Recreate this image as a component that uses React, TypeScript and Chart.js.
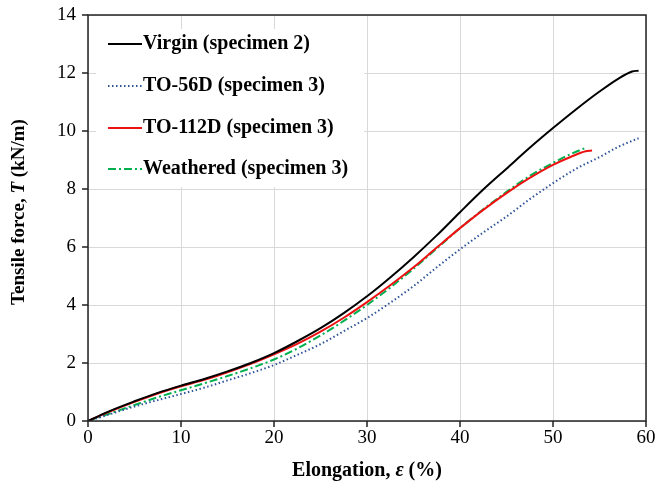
import React, { useEffect, useRef } from "react";
import { Chart, registerables } from "chart.js";

Chart.register(...registerables);

const virginX = [0, 2, 5, 7.5, 10, 12.5, 15, 17.5, 20, 22.5, 25, 27.5, 30, 32.5, 35, 37.5, 40, 42.5, 45, 47.5, 50, 52.5, 55, 57, 58.5, 59.2];
const virginY = [0, 0.3, 0.68, 0.97, 1.22, 1.45, 1.71, 2.0, 2.34, 2.75, 3.2, 3.72, 4.3, 4.95, 5.65, 6.4, 7.2, 7.98, 8.7, 9.42, 10.1, 10.75, 11.36, 11.8, 12.05, 12.08];

const to56X = [0, 2, 5, 7.5, 10, 12.5, 15, 17.5, 20, 22.5, 25, 27.5, 30, 32.5, 35, 37.5, 40, 42.5, 45, 47.5, 50, 52.5, 55, 57, 59.2];
const to56Y = [0, 0.2, 0.5, 0.72, 0.93, 1.15, 1.4, 1.65, 1.93, 2.28, 2.65, 3.1, 3.55, 4.08, 4.65, 5.3, 5.92, 6.5, 7.05, 7.65, 8.2, 8.7, 9.1, 9.45, 9.75];

const to112X = [0, 2, 5, 7.5, 10, 12.5, 15, 17.5, 20, 22.5, 25, 27.5, 30, 32.5, 35, 37.5, 40, 42.5, 45, 47.5, 50, 52, 53.5, 54.2];
const to112Y = [0, 0.28, 0.66, 0.95, 1.2, 1.42, 1.68, 1.97, 2.3, 2.66, 3.08, 3.56, 4.1, 4.68, 5.3, 5.98, 6.65, 7.28, 7.86, 8.38, 8.83, 9.12, 9.3, 9.33];

const weatheredX = [0, 2, 5, 7.5, 10, 12.5, 15, 17.5, 20, 22.5, 25, 27.5, 30, 32.5, 35, 37.5, 40, 42.5, 45, 47.5, 50, 52, 53.5];
const weatheredY = [0, 0.22, 0.55, 0.82, 1.06, 1.3, 1.55, 1.82, 2.12, 2.5, 2.95, 3.45, 4.0, 4.6, 5.25, 5.95, 6.65, 7.3, 7.9, 8.45, 8.9, 9.22, 9.42];

const seriesLabels = ["Virgin (specimen 2)", "TO-56D (specimen 3)", "TO-112D (specimen 3)", "Weathered (specimen 3)"];

const SERIF = "'Liberation Serif', 'DejaVu Serif', serif";

const pts = (xs: number[], ys: number[]) => xs.map((x, i) => ({ x, y: ys[i] }));

export default function App() {
  const ref = useRef<HTMLCanvasElement>(null);
  useEffect(() => {
    if (!ref.current) return;
    const styles = [
      { color: "#000000", dash: [] as number[], width: 2 },
      { color: "#2f5597", dash: [1.5, 2.5], width: 2 },
      { color: "#ee1111", dash: [] as number[], width: 2 },
      { color: "#00b050", dash: [8, 3, 2, 3], width: 2 },
    ];
    const data = [pts(virginX, virginY), pts(to56X, to56Y), pts(to112X, to112Y), pts(weatheredX, weatheredY)];

    const custom = {
      id: "custom",
      beforeDatasetsDraw(chart: any) {
        const ctx = chart.ctx;
        ctx.save();
        ctx.fillStyle = "#ffffff";
        ctx.fillRect(96, 29, 268, 158);
        const rows = [44, 86, 128, 169];
        rows.forEach((y, i) => {
          const s = styles[i];
          ctx.beginPath();
          ctx.strokeStyle = s.color;
          ctx.lineWidth = s.width;
          ctx.setLineDash(s.dash);
          ctx.moveTo(108, y);
          ctx.lineTo(142, y);
          ctx.stroke();
          ctx.setLineDash([]);
          ctx.fillStyle = "#000";
          ctx.font = `bold 20px ${SERIF}`;
          ctx.textBaseline = "middle";
          ctx.textAlign = "left";
          ctx.fillText(seriesLabels[i], 143, y);
        });
        ctx.restore();
      },
      afterDraw(chart: any) {
        const ctx = chart.ctx;
        const a = chart.chartArea;
        const xs = chart.scales.x;
        const ys = chart.scales.y;
        ctx.save();
        ctx.strokeStyle = "#222";
        ctx.lineWidth = 1.5;
        ctx.strokeRect(a.left, a.top, a.right - a.left, a.bottom - a.top);
        ctx.beginPath();
        for (let v = 0; v <= 14; v += 2) {
          const y = ys.getPixelForValue(v);
          ctx.moveTo(a.left - 6, y);
          ctx.lineTo(a.left, y);
        }
        for (let v = 0; v <= 60; v += 10) {
          const x = xs.getPixelForValue(v);
          ctx.moveTo(x, a.bottom);
          ctx.lineTo(x, a.bottom + 6);
        }
        ctx.stroke();
        // x title
        ctx.fillStyle = "#000";
        ctx.textBaseline = "middle";
        const cx = (a.left + a.right) / 2;
        const parts = [
          { t: "Elongation, ", f: `bold 20px ${SERIF}` },
          { t: "\u03b5", f: `bold italic 20px ${SERIF}` },
          { t: " (%)", f: `bold 20px ${SERIF}` },
        ];
        let total = 0;
        parts.forEach((p) => { ctx.font = p.f; total += ctx.measureText(p.t).width; });
        let x0 = cx - total / 2;
        ctx.textAlign = "left";
        parts.forEach((p) => { ctx.font = p.f; ctx.fillText(p.t, x0, 471); x0 += ctx.measureText(p.t).width; });
        // y title
        ctx.translate(19, 212);
        ctx.rotate(-Math.PI / 2);
        const yparts = [
          { t: "Tensile force, ", f: `bold 19px ${SERIF}` },
          { t: "T", f: `bold italic 19px ${SERIF}` },
          { t: " (kN/m)", f: `bold 19px ${SERIF}` },
        ];
        total = 0;
        yparts.forEach((p) => { ctx.font = p.f; total += ctx.measureText(p.t).width; });
        x0 = -total / 2;
        yparts.forEach((p) => { ctx.font = p.f; ctx.fillText(p.t, x0, 0); x0 += ctx.measureText(p.t).width; });
        ctx.restore();
      },
    };

    const chart = new Chart(ref.current, {
      type: "scatter",
      data: {
        datasets: data.map((d, i) => ({
          label: seriesLabels[i],
          data: d,
          showLine: true,
          borderColor: styles[i].color,
          borderWidth: styles[i].width,
          borderDash: styles[i].dash,
          pointRadius: 0,
          cubicInterpolationMode: "monotone" as const,
          fill: false,
        })),
      },
      options: {
        responsive: false,
        animation: false,
        layout: { padding: { top: 15, right: 11, left: 0, bottom: 0 } },
        plugins: { legend: { display: false }, tooltip: { enabled: false } },
        scales: {
          x: {
            type: "linear",
            min: 0,
            max: 60,
            ticks: { stepSize: 10, color: "#000", font: { family: SERIF, size: 19 }, padding: 6 },
            grid: { color: "#d9d9d9", lineWidth: 1, drawTicks: false },
            border: { display: false },
            afterFit: (s: any) => { s.height = 68; s.paddingLeft = 0; s.paddingRight = 0; },
          },
          y: {
            min: 0,
            max: 14,
            ticks: { stepSize: 2, color: "#000", font: { family: SERIF, size: 19 }, padding: 12 },
            grid: { color: "#d9d9d9", lineWidth: 1, drawTicks: false },
            border: { display: false },
            afterFit: (s: any) => { s.width = 88; s.paddingTop = 0; s.paddingBottom = 0; },
          },
        },
      },
      plugins: [custom],
    });
    return () => chart.destroy();
  }, []);
  return (
    <div style={{ position: "absolute", left: 0, top: 0, width: 657, height: 489, background: "#fff" }}>
      <canvas ref={ref} width={657} height={489} style={{ width: 657, height: 489 }} />
    </div>
  );
}
